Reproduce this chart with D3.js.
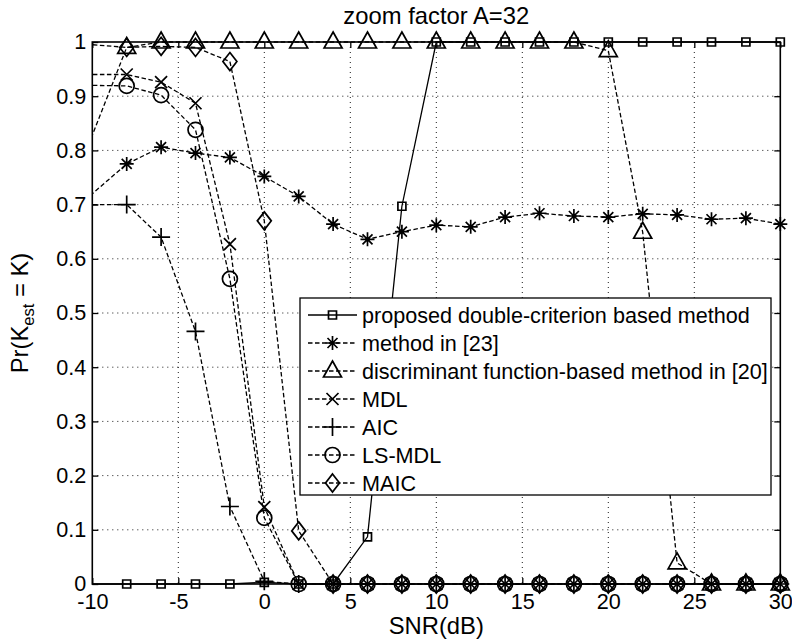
<!DOCTYPE html>
<html><head><meta charset="utf-8">
<script src="https://cdn.jsdelivr.net/npm/d3@7/dist/d3.min.js"></script>
<style>
html,body{margin:0;padding:0;background:#fff;}
svg{display:block;font-family:"Liberation Sans",Arial,Helvetica,sans-serif;}
</style></head>
<body>
<svg id="chart" width="792" height="640"></svg>
<script>
// ---------- data ----------
const snr = [-12, -10, -8, -6, -4, -2, 0, 2, 4, 6, 8, 10, 12, 14, 16, 18, 20, 22, 24, 26, 28, 30];
const proposed     = [0, 0, 0, 0, 0, 0, 0.003, 0, 0, 0.087, 0.697, 1, 1, 1, 1, 1, 1, 1, 1, 1, 1, 1];
const method23     = [0.667, 0.72, 0.775, 0.806, 0.795, 0.787, 0.752, 0.715, 0.664, 0.636, 0.650, 0.662, 0.659, 0.677, 0.684, 0.679, 0.677, 0.683, 0.681, 0.673, 0.675, 0.664];
const discriminant = [0.666, 0.828, 0.99, 1, 1, 1, 1, 1, 1, 1, 1, 1, 1, 1, 1, 1, 0.984, 0.649, 0.039, 0, 0, 0];
const mdl          = [0.94, 0.94, 0.94, 0.926, 0.887, 0.627, 0.142, 0, 0, 0, 0, 0, 0, 0, 0, 0, 0, 0, 0, 0, 0, 0];
const aic          = [0.70, 0.70, 0.70, 0.64, 0.466, 0.143, 0.005, 0, 0, 0, 0, 0, 0, 0, 0, 0, 0, 0, 0, 0, 0, 0];
const lsmdl        = [0.92, 0.92, 0.919, 0.902, 0.838, 0.563, 0.122, 0, 0, 0, 0, 0, 0, 0, 0, 0, 0, 0, 0, 0, 0, 0];
const maic         = [0.995, 0.995, 0.99, 0.992, 0.99, 0.964, 0.670, 0.098, 0, 0, 0, 0, 0, 0, 0, 0, 0, 0, 0, 0, 0, 0];
const seriesNames  = ["proposed double-criterion based method", "method in [23]", "discriminant function-based method in [20]", "MDL", "AIC", "LS-MDL", "MAIC"];
const seriesMarkers = ["square", "asterisk", "triangle", "x", "plus", "circle", "diamond"];
const seriesDashed  = [false, true, true, true, true, true, true];
const xTicks = [-10, -5, 0, 5, 10, 15, 20, 25, 30];
const xTickLabels = ["-10", "-5", "0", "5", "10", "15", "20", "25", "30"];
const yTicks = [0, 0.1, 0.2, 0.3, 0.4, 0.5, 0.6, 0.7, 0.8, 0.9, 1];
const yTickLabels = ["0", "0.1", "0.2", "0.3", "0.4", "0.5", "0.6", "0.7", "0.8", "0.9", "1"];
const titleText = "zoom factor A=32";
const xLabel = "SNR(dB)";

const seriesValues = [proposed, method23, discriminant, mdl, aic, lsmdl, maic];

// ---------- layout ----------
const L = 92.3, R = 780.3, T = 42, B = 584;
const svg = d3.select("#chart");
const x = d3.scaleLinear().domain([-10, 30]).range([L, R]);
const y = d3.scaleLinear().domain([0, 1]).range([B, T]);
const FS = 21.6, FL = 23.8;

svg.append("defs").append("clipPath").attr("id", "clip")
  .append("rect").attr("x", L).attr("y", T - 20).attr("width", R - L).attr("height", B - T + 40);

// grid
const grid = svg.append("g");
grid.selectAll("line.gx").data(xTicks.slice(1, -1)).join("line")
  .attr("x1", d => x(d)).attr("x2", d => x(d)).attr("y1", T).attr("y2", B)
  .attr("stroke", "#000").attr("stroke-width", 0.9).attr("stroke-dasharray", "1,4");
grid.selectAll("line.gy").data(yTicks.slice(1, -1)).join("line")
  .attr("y1", d => y(d)).attr("y2", d => y(d)).attr("x1", L).attr("x2", R)
  .attr("stroke", "#000").attr("stroke-width", 0.9).attr("stroke-dasharray", "1,4");

// axes
const axB = d3.axisBottom(x).tickValues(xTicks).tickSize(-6).tickPadding(10).tickFormat((d, i) => xTickLabels[i]);
const axL = d3.axisLeft(y).tickValues(yTicks).tickSize(-6).tickPadding(6).tickFormat((d, i) => yTickLabels[i]);
const axT = d3.axisTop(x).tickValues(xTicks).tickSize(-6).tickFormat("");
const axR = d3.axisRight(y).tickValues(yTicks).tickSize(-6).tickFormat("");
function styleAxis(g) {
  g.select(".domain").remove();
  g.selectAll(".tick line").attr("stroke", "#000").attr("stroke-width", 1.3);
  g.selectAll(".tick text").attr("fill", "#000").attr("font-size", FS).attr("font-family", "Liberation Sans, Arial, sans-serif");
}
svg.append("g").attr("transform", `translate(0,${B})`).call(axB).call(styleAxis);
svg.append("g").attr("transform", `translate(${L},0)`).call(axL).call(styleAxis);
svg.append("g").attr("transform", `translate(0,${T})`).call(axT).call(styleAxis);
svg.append("g").attr("transform", `translate(${R},0)`).call(axR).call(styleAxis);

svg.append("rect").attr("x", L).attr("y", T).attr("width", R - L).attr("height", B - T)
  .attr("fill", "none").attr("stroke", "#000").attr("stroke-width", 1.6);

// markers
function markerPath(type) {
  switch (type) {
    case "square": return "M-4,-4H4V4H-4Z";
    case "asterisk": { const s = 7, d = 5; return `M0,${-s}V${s}M${-s},0H${s}M${-d},${-d}L${d},${d}M${-d},${d}L${d},${-d}`; }
    case "triangle": return "M0,-10L9,6H-9Z";
    case "x": return "M-6,-6L6,6M-6,6L6,-6";
    case "plus": return "M0,-9V9M-9,0H9";
    case "circle": return "M7.5,0A7.5,7.5 0 1,1 -7.5,0A7.5,7.5 0 1,1 7.5,0Z";
    case "diamond": return "M0,-9L7,0L0,9L-7,0Z";
  }
}

const line = d3.line().x(d => x(d[0])).y(d => y(d[1]));
const plot = svg.append("g");
seriesValues.forEach((vals, i) => {
  const pts = snr.map((s, k) => [s, vals[k]]);
  plot.append("path").datum(pts).attr("d", line).attr("clip-path", "url(#clip)")
    .attr("fill", "none").attr("stroke", "#000").attr("stroke-width", 1.3)
    .attr("stroke-dasharray", seriesDashed[i] ? "4.5,2.5" : null);
  plot.selectAll(null).data(pts.filter(p => p[0] > -10 && p[0] <= 30)).join("path")
    .attr("transform", d => `translate(${x(d[0])},${y(d[1])})`)
    .attr("d", markerPath(seriesMarkers[i]))
    .attr("fill", "none").attr("stroke", "#000").attr("stroke-width", 1.7);
});

// title & labels
svg.append("text").attr("x", (L + R) / 2).attr("y", 24).attr("text-anchor", "middle")
  .attr("font-size", FL).text(titleText);
svg.append("text").attr("x", (L + R) / 2).attr("y", 634).attr("text-anchor", "middle")
  .attr("font-size", FL).text(xLabel);
const yl = svg.append("text").attr("transform", `translate(28,${(T + B) / 2}) rotate(-90)`)
  .attr("text-anchor", "middle").attr("font-size", FL);
yl.append("tspan").text("Pr(K");
yl.append("tspan").attr("font-size", 16.5).attr("dy", 6).text("est");
yl.append("tspan").attr("dy", -6).text(" = K)");

// legend
const LX = 300, LY = 298, LW = 471, LH = 197;
const lg = svg.append("g");
lg.append("rect").attr("x", LX).attr("y", LY).attr("width", LW).attr("height", LH)
  .attr("fill", "#fff").attr("stroke", "#000").attr("stroke-width", 1.3);
seriesNames.forEach((name, i) => {
  const cy = 315 + i * 28;
  lg.append("line").attr("x1", 308).attr("x2", 357).attr("y1", cy).attr("y2", cy)
    .attr("stroke", "#000").attr("stroke-width", 1.3)
    .attr("stroke-dasharray", seriesDashed[i] ? "4.5,2.5" : null);
  lg.append("path").attr("transform", `translate(332.5,${cy})`).attr("d", markerPath(seriesMarkers[i]))
    .attr("fill", "none").attr("stroke", "#000").attr("stroke-width", 1.7);
  lg.append("text").attr("x", 362).attr("y", cy + 8).attr("font-size", FS).text(name);
});
</script>
</body></html>
